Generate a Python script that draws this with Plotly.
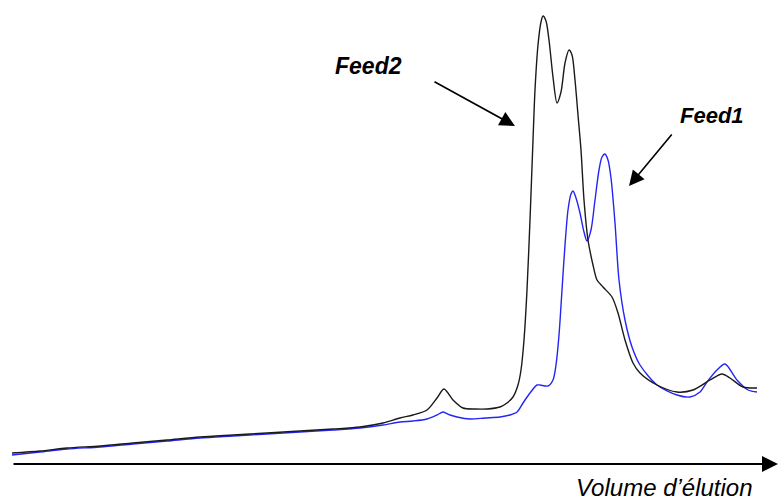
import plotly.graph_objects as go

# Elution volume (arbitrary units) and detector signal (arbitrary units)
feed2_volume = [12, 40, 67, 100, 133, 167, 200, 233, 267, 300, 333, 360, 383, 400, 413, 427,
                437, 444, 453, 463, 475, 487, 500, 507, 513, 518, 521, 524, 527, 530, 533, 535,
                538, 541, 543, 546, 549, 553, 557, 561, 565, 569, 572, 575, 578, 581, 584, 588,
                593, 597, 603, 612, 618, 625, 633, 640, 657, 677, 693, 710, 722, 730, 743, 757]
feed2_signal = [47, 49, 52, 54, 57, 60, 63, 65, 67, 69, 71, 73, 77, 82, 85, 90,
                102, 111, 100, 92, 91, 91, 93, 97, 103, 115, 130, 160, 210, 280, 360, 410,
                455, 478, 484, 479, 460, 423, 397, 408, 437, 450, 445, 420, 385, 350, 300, 260,
                235, 220, 213, 203, 187, 160, 137, 127, 115, 108, 110, 120, 126, 122, 113, 112]

feed1_volume = [12, 40, 67, 100, 133, 167, 200, 233, 267, 300, 333, 360, 383, 400, 413, 427,
                437, 443, 450, 457, 470, 485, 500, 510, 517, 523, 530, 537, 540, 548, 553, 556,
                559, 562, 565, 568, 571, 573, 576, 580, 584, 587, 591, 595, 599, 602, 605, 608,
                611, 615, 619, 625, 632, 640, 657, 677, 690, 700, 707, 717, 725, 737, 748, 757]
feed1_signal = [45, 48, 51, 53, 56, 59, 62, 64, 66, 68, 70, 72, 75, 78, 79, 81,
                85, 88, 85, 83, 81, 82, 83, 85, 88, 97, 107, 115, 115, 114, 120, 135,
                165, 210, 255, 290, 306, 309, 302, 287, 268, 259, 270, 300, 330, 343, 346, 340,
                322, 277, 220, 180, 153, 135, 115, 105, 103, 108, 118, 130, 136, 120, 110, 108]

x_label = "Volume d\u2019élution"
label_feed2 = "Feed2"
label_feed1 = "Feed1"

fig = go.Figure()
fig.add_trace(go.Scatter(x=feed1_volume, y=feed1_signal, mode="lines",
                         line=dict(color="#2424f5", width=1.4, shape="spline", smoothing=0.8),
                         name=label_feed1, hoverinfo="skip"))
fig.add_trace(go.Scatter(x=feed2_volume, y=feed2_signal, mode="lines",
                         line=dict(color="#1a1a1a", width=1.4, shape="spline", smoothing=0.8),
                         name=label_feed2, hoverinfo="skip"))

# x-axis arrow
fig.add_annotation(x=778, y=36, ax=12, ay=36, xref="x", yref="y", axref="x", ayref="y",
                   text="", showarrow=True, arrowhead=2, arrowsize=1.6, arrowwidth=2,
                   arrowcolor="black")
fig.add_annotation(x=664, y=13, xref="x", yref="y", text=f"<i>{x_label}</i>", showarrow=False,
                   font=dict(family="Liberation Sans, Arial, sans-serif", size=24, color="black"))

# Feed labels and arrows
fig.add_annotation(x=368, y=434, xref="x", yref="y", text=f"<b><i>{label_feed2}</i></b>",
                   showarrow=False,
                   font=dict(family="Liberation Sans, Arial, sans-serif", size=23, color="black"))
fig.add_annotation(x=515, y=374, ax=433, ay=419, xref="x", yref="y", axref="x", ayref="y",
                   text="", showarrow=True, arrowhead=2, arrowsize=1.9, arrowwidth=1.6,
                   arrowcolor="black")
fig.add_annotation(x=712, y=385, xref="x", yref="y", text=f"<b><i>{label_feed1}</i></b>",
                   showarrow=False,
                   font=dict(family="Liberation Sans, Arial, sans-serif", size=22, color="black"))
fig.add_annotation(x=629, y=314, ax=673, ay=367, xref="x", yref="y", axref="x", ayref="y",
                   text="", showarrow=True, arrowhead=2, arrowsize=1.9, arrowwidth=1.6,
                   arrowcolor="black")

fig.update_layout(width=779, height=500, margin=dict(l=0, r=0, t=0, b=0),
                  paper_bgcolor="white", plot_bgcolor="white", showlegend=False)
fig.update_xaxes(range=[0, 779], visible=False)
fig.update_yaxes(range=[0, 500], visible=False)
fig.write_html("out.html", config={"displayModeBar": False, "staticPlot": True},
               post_script="document.body.style.margin='0';document.body.style.overflow='hidden';")
